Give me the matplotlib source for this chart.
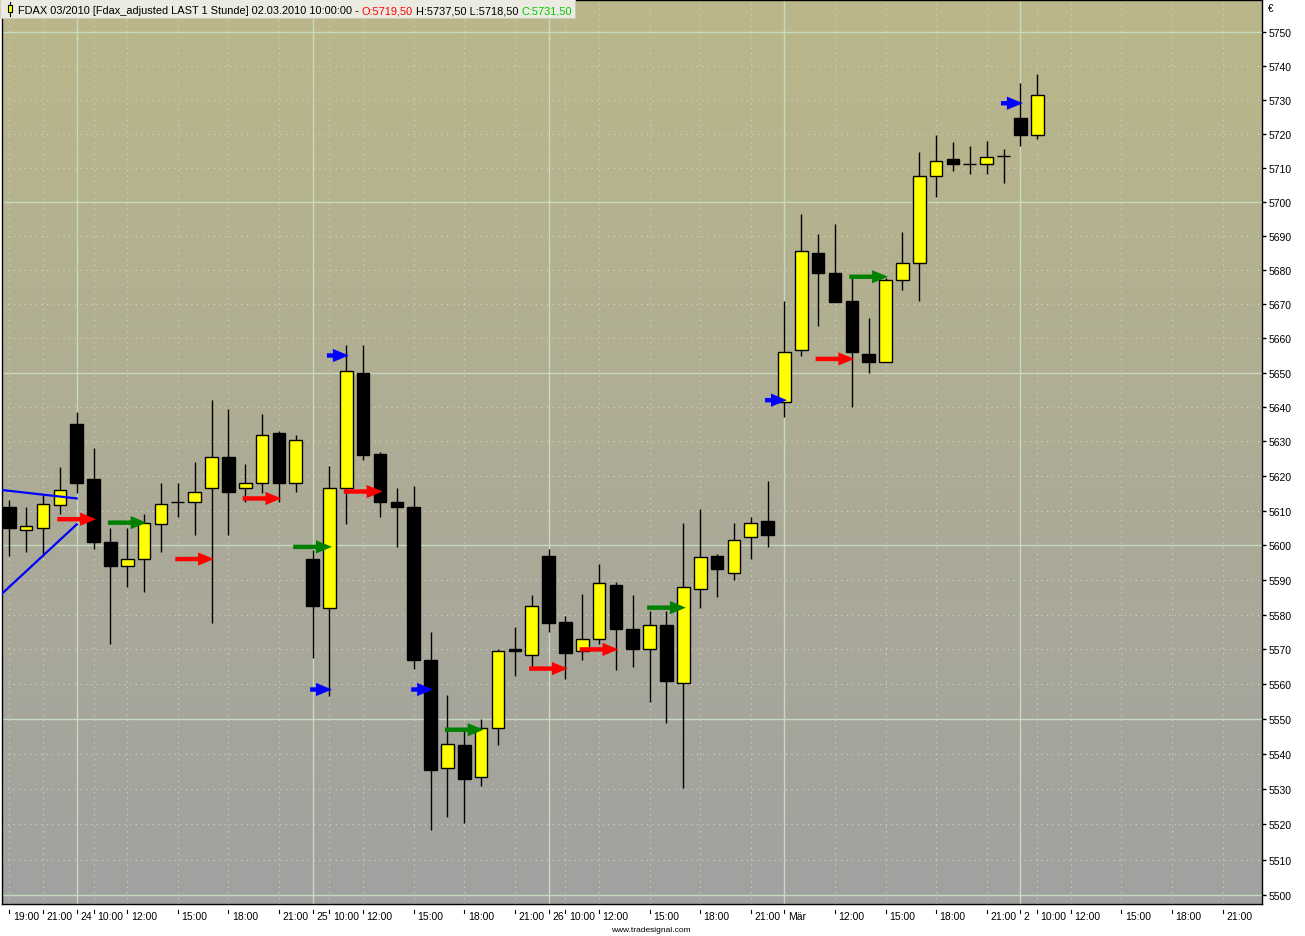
import numpy as np
import matplotlib.pyplot as plt
from matplotlib.patches import Rectangle, ArrowStyle
from matplotlib.lines import Line2D
from matplotlib.ticker import FixedLocator, NullLocator, FuncFormatter
from matplotlib.transforms import blended_transform_factory, ScaledTranslation

W, H = 1305, 937
plt.rcParams['font.family'] = ['Liberation Sans', 'DejaVu Sans']

# hourly FDAX candles, 23.02.2010 19:00 .. 02.03.2010 10:00
opens = [5611, 5604.5, 5605, 5611.5, 5635, 5619, 5601, 5594, 5596, 5606,
         5612.5, 5612.5, 5616.5, 5625.5, 5616.5, 5618, 5632.5, 5618, 5596, 5582,
         5616.5, 5650, 5626.5, 5612.5, 5611, 5567, 5536, 5542.5, 5533.5, 5547.5,
         5570, 5568.5, 5597, 5578, 5569.5, 5573, 5588.5, 5576, 5570, 5577,
         5560.5, 5587.5, 5597, 5592, 5602.5, 5607, 5641.5, 5656.5, 5685, 5679,
         5671, 5655.5, 5653, 5677, 5682, 5707.5, 5712.5, 5711, 5711, 5713.5,
         5724.5, 5719.5]
highs = [5613, 5611, 5614.5, 5622.5, 5638.5, 5628, 5605, 5605, 5609, 5618,
         5618, 5624, 5642, 5639.5, 5623.5, 5638, 5633, 5632, 5598.5, 5623,
         5658, 5658, 5627, 5616.5, 5617, 5575, 5557, 5546.5, 5550, 5570,
         5576.5, 5585.5, 5599, 5579.5, 5586, 5594.5, 5589.5, 5585.5, 5581, 5581,
         5606.5, 5610.5, 5597.5, 5606.5, 5608, 5618.5, 5671, 5696.5, 5690.5, 5693.5,
         5677.5, 5666, 5677.5, 5691, 5714.5, 5719.5, 5717.5, 5716.5, 5718, 5715.5,
         5735, 5737.5]
lows = [5597, 5598, 5597, 5609, 5615, 5599, 5571.5, 5588, 5586.5, 5598,
        5608, 5603, 5577.5, 5603, 5612.5, 5615, 5612.5, 5615.5, 5567.5, 5556.5,
        5606, 5624.5, 5608, 5599.5, 5564.5, 5518.5, 5522, 5520.5, 5531, 5542.5,
        5562.5, 5565, 5575, 5561.5, 5567, 5571.5, 5564, 5565, 5555, 5549,
        5530.5, 5582, 5585, 5590, 5596, 5599.5, 5637, 5655, 5663.5, 5670.5,
        5640, 5650, 5653, 5674, 5671, 5701.5, 5709, 5708, 5708, 5705.5,
        5716.5, 5718.5]
closes = [5605, 5605.5, 5612, 5616, 5618, 5601, 5594, 5596, 5606.5, 5612,
          5612.5, 5615.5, 5625.5, 5615.5, 5618, 5632, 5618, 5630.5, 5582.5, 5616.5,
          5650.5, 5626, 5612.5, 5611, 5567, 5535.5, 5543, 5533, 5547.5, 5569.5,
          5569.5, 5582.5, 5577.5, 5569, 5573, 5589, 5576, 5570, 5577, 5561,
          5588, 5596.5, 5593, 5601.5, 5606.5, 5603, 5656, 5685.5, 5679, 5670.5,
          5656, 5653, 5677, 5682, 5707.5, 5712, 5711, 5711, 5713, 5713.5,
          5719.5, 5731.5]

# signal arrows: bar index of the tip and price level
red_bars = [5, 12, 16, 22, 33, 36, 50]
red_prices = [5607.5, 5596, 5613.5, 5615.5, 5564.5, 5570, 5654]
green_bars = [8, 19, 28, 40, 52]
green_prices = [5606.5, 5599.5, 5547, 5582, 5678]
blue_bars = [19, 20, 25, 46, 60]
blue_prices = [5558.5, 5655, 5558.5, 5642, 5729]

# two blue indicator lines at the left edge
line_bars = [-0.55, 4]
line_upper = [5616, 5613.5]
line_lower = [5585.5, 5606]

# time axis labels (bar index -> text)
tick_bars = [0, 2, 4, 5, 7, 10, 13, 16, 18, 19, 21, 24, 27, 30, 32, 33, 35, 38,
             41, 44, 46, 49, 52, 55, 58, 60, 61, 63, 66, 69, 72]
tick_labels = ['19:00', '21:00', '24', '10:00', '12:00', '15:00', '18:00', '21:00',
               '25', '10:00', '12:00', '15:00', '18:00', '21:00', '26', '10:00',
               '12:00', '15:00', '18:00', '21:00', 'Mär', '12:00', '15:00', '18:00',
               '21:00', '2', '10:00', '12:00', '15:00', '18:00', '21:00']
day_labels = ['24', '25', '26', 'Mär', '2']

price_ticks = list(range(5500, 5751, 10))

fig = plt.figure(figsize=(W / 100, H / 100), dpi=100, facecolor='white')
pos = [1.5 / W, 32 / H, 1260.5 / W, 904.5 / H]

# gradient background
bg = fig.add_axes(pos, zorder=0)
top = np.array([187, 183, 137]) / 255
bot = np.array([161, 161, 161]) / 255
t = np.linspace(0, 1, 256)[:, None]
grad = (top * (1 - t) + bot * t)[:, None, :]
bg.imshow(grad, aspect='auto', extent=[0, 1, 0, 1])
bg.axis('off')

ax = fig.add_axes(pos, zorder=1)
ax.set_facecolor('none')
ax.set_yscale('log')
ax.set_xlim(-0.463, 74.34)
ax.set_ylim(5497.4, 5759.7)

gc = '#c6dabf'
for p in price_ticks:
    if p % 50 == 0:
        ax.axhline(p, color=gc, lw=1, zorder=1)
    else:
        ax.axhline(p, color=gc, lw=0.8, ls=(0, (1, 4)), zorder=1)
for b, lab in zip(tick_bars, tick_labels):
    if lab in day_labels:
        ax.axvline(b, color=gc, lw=1, zorder=1)
    else:
        ax.axvline(b, color=gc, lw=0.8, ls=(0, (1, 4)), zorder=1)

x = np.arange(len(opens))
o = np.array(opens)
c = np.array(closes)
ax.vlines(x, lows, highs, color='black', lw=1, zorder=2)
cols = np.where(c > o, '#ffff00', '#000000')
ax.bar(x, np.abs(c - o), bottom=np.minimum(o, c), width=0.75, color=cols,
       edgecolor='black', linewidth=1, zorder=3)

ax.plot(line_bars, line_upper, color='#0000ff', lw=1.6, zorder=4)
ax.plot(line_bars, line_lower, color='#0000ff', lw=1.6, zorder=4)

arrow = ArrowStyle.Simple(head_length=1.15, head_width=0.95, tail_width=0.32)
for bars, prices, col, length in [(red_bars, red_prices, '#ff0000', 2.3),
                                  (green_bars, green_prices, '#008000', 2.3),
                                  (blue_bars, blue_prices, '#0000ff', 1.3)]:
    for b, p in zip(bars, prices):
        ax.annotate('', xy=(b + 0.15, p), xytext=(b + 0.15 - length, p),
                    arrowprops=dict(arrowstyle=arrow, mutation_scale=10, color=col,
                                    lw=0, shrinkA=0, shrinkB=0), zorder=5)

for s in ax.spines.values():
    s.set_color('black')
    s.set_linewidth(1)

ax.yaxis.tick_right()
ax.yaxis.set_major_locator(FixedLocator(price_ticks))
ax.yaxis.set_minor_locator(NullLocator())
ax.yaxis.set_major_formatter(FuncFormatter(lambda v, _: f'{v:.0f}'))
ax.tick_params(axis='y', which='major', direction='out', length=3, width=1,
               pad=2, labelsize=7.5, colors='black')

ax.set_xticks(tick_bars)
ax.set_xticklabels(tick_labels)
ax.tick_params(axis='x', length=0, pad=5, labelsize=7.5)
shift = ScaledTranslation(2.5 / 72, 0, fig.dpi_scale_trans)
for lab in ax.get_xticklabels():
    lab.set_horizontalalignment('left')
    lab.set_transform(lab.get_transform() + shift)
tr = blended_transform_factory(ax.transData, ax.transAxes)
for b in tick_bars:
    ax.plot([b, b], [-5.5 / 904.5, -9 / 904.5], color='black', lw=0.8,
            transform=tr, clip_on=False)

# header box
fig.canvas.draw()
r = fig.canvas.get_renderer()
fmt = lambda v: f'{v:.2f}'.replace('.', ',')
pieces = [('FDAX 03/2010 [Fdax_adjusted LAST 1 Stunde] 02.03.2010 10:00:00 - ', 'black'),
          (f'O:{fmt(opens[-1])}', '#ff0000'),
          (f' H:{fmt(highs[-1])} L:{fmt(lows[-1])} ', 'black'),
          (f'C:{fmt(closes[-1])}', '#00c800')]
xp = 18
for s, col in pieces:
    tx = fig.text(xp / W, 1 - 14 / H, s, color=col, fontsize=7.9, ha='left',
                  va='baseline', zorder=11)
    xp += tx.get_window_extent(renderer=r).width
fig.add_artist(Rectangle((0, 1 - 19 / H), (xp + 3) / W, 19 / H, transform=fig.transFigure,
                         facecolor='#ecebe1', edgecolor='#c8c8c0', lw=0.6, zorder=10))
fig.add_artist(Line2D([9.5 / W, 9.5 / W], [1 - 3 / H, 1 - 17 / H], color='black', lw=0.8,
                      zorder=11))
fig.add_artist(Rectangle((7.5 / W, 1 - 13 / H), 4 / W, 7 / H, transform=fig.transFigure,
                         facecolor='#ffff00', edgecolor='black', lw=0.8, zorder=12))

fig.text(1268 / W, 1 - 9 / H, '€', fontsize=7, ha='left', va='center')
fig.text(651 / W, 1 - 931 / H, 'www.tradesignal.com', fontsize=6, ha='center',
         va='center')

fig.savefig('out.png', dpi=100, facecolor='white')
